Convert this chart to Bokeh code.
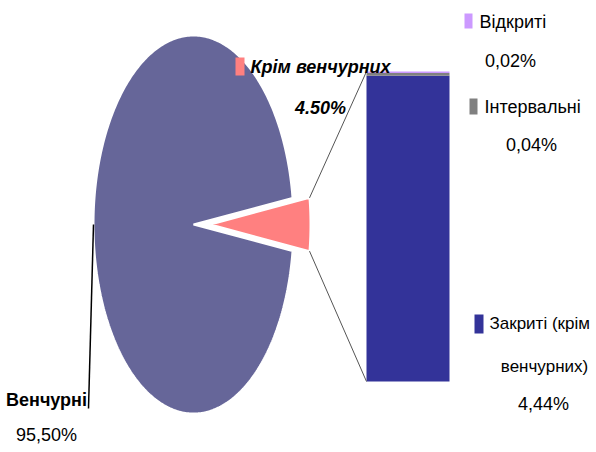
import numpy as np
from bokeh.plotting import figure
from bokeh.models import Range1d
from bokeh.embed import file_html
from bokeh.resources import INLINE
from bokeh.core.properties import value

# ---- data ----
pie_labels = ["Венчурні", "Крім венчурних"]
pie_values = [95.50, 4.50]
pie_texts = ["95,50%", "4.50%"]
bar_labels = ["Закриті (крім", "Інтервальні", "Відкриті"]
bar_labels2 = ["венчурних)", "", ""]
bar_values = [4.44, 0.04, 0.02]
bar_texts = ["4,44%", "0,04%", "0,02%"]

pie_colors = ["#666699", "#FF8080"]
bar_colors = ["#333399", "#808080", "#CC99FF"]

FONT = "Liberation Sans"

p = figure(width=596, height=452, output_backend="svg", toolbar_location=None,
           x_range=Range1d(0, 596), y_range=Range1d(452, 0), min_border=0)
p.axis.visible = False
p.grid.visible = False
p.outline_line_color = None
p.background_fill_color = "white"

# ---- pie (elliptical, small slice exploded to the right) ----
cx, cy, rx, ry, explode = 193, 224, 100, 189, 17
total = sum(pie_values)
small_span = 2 * np.pi * pie_values[1] / total
a0, a1 = small_span / 2, 2 * np.pi - small_span / 2
t = np.linspace(a0, a1, 400)
big_x = np.concatenate([[cx], cx + rx * np.cos(t)])
big_y = np.concatenate([[cy], cy + ry * np.sin(t)])
t2 = np.linspace(-small_span / 2, small_span / 2, 60)
scx = cx + explode
sm_x = np.concatenate([[scx], scx + rx * np.cos(t2)])
sm_y = np.concatenate([[cy], cy + ry * np.sin(t2)])
p.patches([list(big_x), list(sm_x)], [list(big_y), list(sm_y)],
          fill_color=pie_colors, line_color="white", line_width=2)

# ---- stacked bar ----
bx0, bx1, bbot, bh = 366, 449, 381, 310
scale = bh / sum(bar_values)
bottoms = np.concatenate([[0], np.cumsum(bar_values)[:-1]])
tops = np.cumsum(bar_values)
p.quad(left=[bx0] * 3, right=[bx1] * 3,
       bottom=list(bbot - bottoms * scale), top=list(bbot - tops * scale),
       fill_color=bar_colors, line_color=None)

# connector lines
ex = scx + rx * np.cos(small_span / 2)
ey_top = cy - ry * np.sin(small_span / 2)
ey_bot = cy + ry * np.sin(small_span / 2)
p.segment(x0=[ex, ex], y0=[ey_top, ey_bot], x1=[bx0, bx0],
          y1=[bbot - tops[-1] * scale, bbot], line_color="#555555", line_width=1)

# leader line for the large slice
p.segment(x0=[cx - rx], y0=[cy], x1=[88], y1=[408], line_color="black", line_width=1.5)

# ---- labels ----
def txt(x, y, s, align="left", style="normal", size="18px"):
    p.text(x=[x], y=[y], text=[s], text_align=align, text_baseline="middle",
           text_font=value(FONT), text_font_size=size, text_font_style=style,
           text_color="black")

# pie labels
txt(46, 399, pie_labels[0], "center", "bold")
txt(46, 434, pie_texts[0], "center")
p.quad(left=[235], right=[244], top=[57], bottom=[75], fill_color=pie_colors[1], line_color=None)
txt(250, 66, pie_labels[1], "left", "bold italic")
txt(320, 107, pie_texts[1], "center", "bold italic")

# bar legend labels
p.quad(left=[464, 469, 474], right=[472, 477, 483], top=[13, 98, 314], bottom=[28, 114, 333],
       fill_color=[bar_colors[2], bar_colors[1], bar_colors[0]], line_color=None)
txt(479, 21, bar_labels[2])
txt(510, 60, bar_texts[2], "center")
txt(484, 106, bar_labels[1])
txt(531, 144, bar_texts[1], "center")
txt(489, 323, bar_labels[0], size="17px")
txt(544, 366, bar_labels2[0], "center", size="17px")
txt(543, 403, bar_texts[0], "center")

open("out.html", "w").write(file_html(p, INLINE))
